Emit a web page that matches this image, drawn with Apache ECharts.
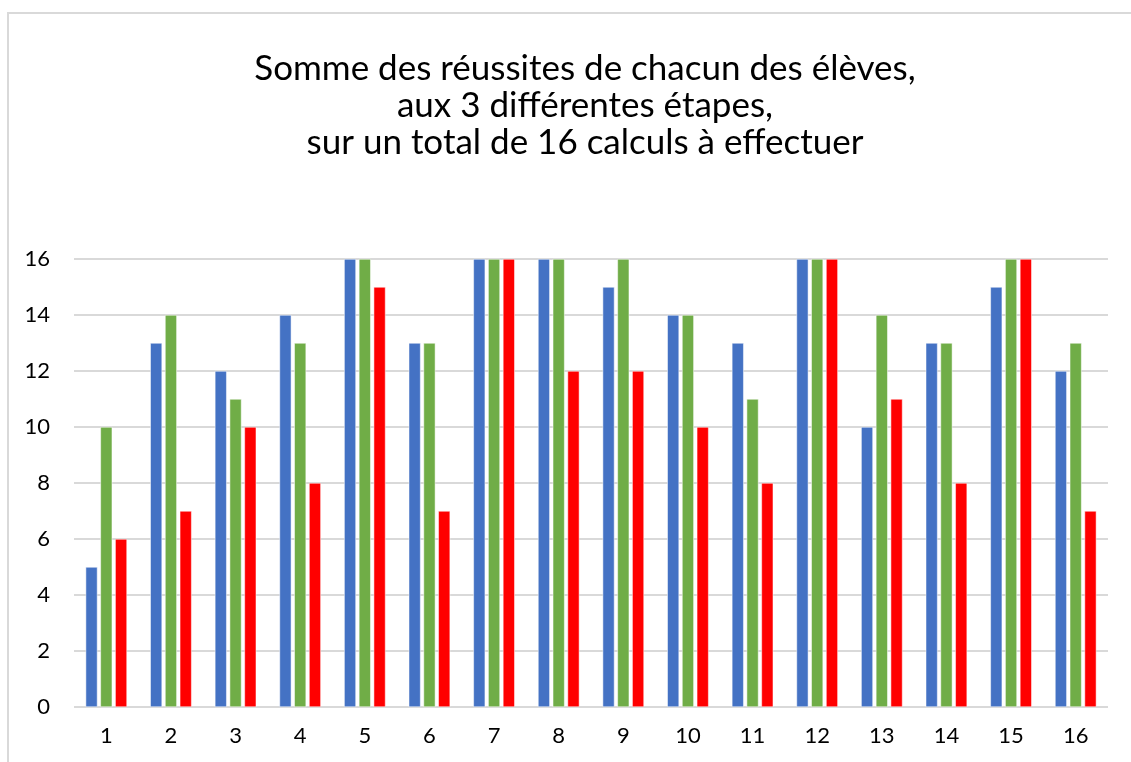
<!DOCTYPE html>
<html>
<head>
<meta charset="utf-8">
<script src="https://cdn.jsdelivr.net/npm/echarts@6/dist/echarts.min.js"></script>
<style>html,body{margin:0;padding:0;background:#fff;}#c{width:1131px;height:762px;}</style>
</head>
<body>
<div id="c"></div>
<script>
const categories = ['1','2','3','4','5','6','7','8','9','10','11','12','13','14','15','16'];
const serieBleue = [5,13,12,14,16,13,16,16,15,14,13,16,10,13,15,12];
const serieVerte = [10,14,11,13,16,13,16,16,16,14,11,16,14,13,16,13];
const serieRouge = [6,7,10,8,15,7,16,12,12,10,8,16,11,8,16,7];
const titre = 'Somme des réussites de chacun des élèves,\naux 3 différentes étapes,\nsur un total de 16 calculs à effectuer';

const font = 'Lato, "Open Sans", sans-serif';
const chart = echarts.init(document.getElementById('c'), null, {renderer:'canvas'});
const barStyle = (c) => ({color:c, borderColor:'#ffffff', borderWidth:0.5});
chart.setOption({
  animation:false,
  backgroundColor:'#ffffff',
  graphic:[{type:'rect', shape:{x:8,y:13,width:1300,height:900}, style:{fill:'none', stroke:'#d9d9d9', lineWidth:2}, silent:true}],
  title:{text:titre, left:580, textAlign:'center', top:45,
    textStyle:{fontFamily:font, fontSize:35, fontWeight:'normal', color:'#000', lineHeight:37}},
  grid:{left:74, right:23, top:259, bottom:55},
  xAxis:{type:'category', data:categories,
    axisLine:{show:false}, axisTick:{show:false},
    axisLabel:{fontFamily:font, fontSize:22, color:'#000', margin:18}},
  yAxis:{type:'value', min:0, max:16, interval:2,
    axisLine:{show:false}, axisTick:{show:false},
    axisLabel:{fontFamily:font, fontSize:22, color:'#000', margin:24},
    splitLine:{lineStyle:{color:'#d9d9d9', width:2}}},
  series:[
    {type:'bar', name:'1', data:serieBleue, itemStyle:barStyle('#4472C4'), barCategoryGap:'36%', barGap:'25%'},
    {type:'bar', name:'2', data:serieVerte, itemStyle:barStyle('#70AD47')},
    {type:'bar', name:'3', data:serieRouge, itemStyle:barStyle('#FF0000')}
  ]
});
</script>
</body>
</html>
